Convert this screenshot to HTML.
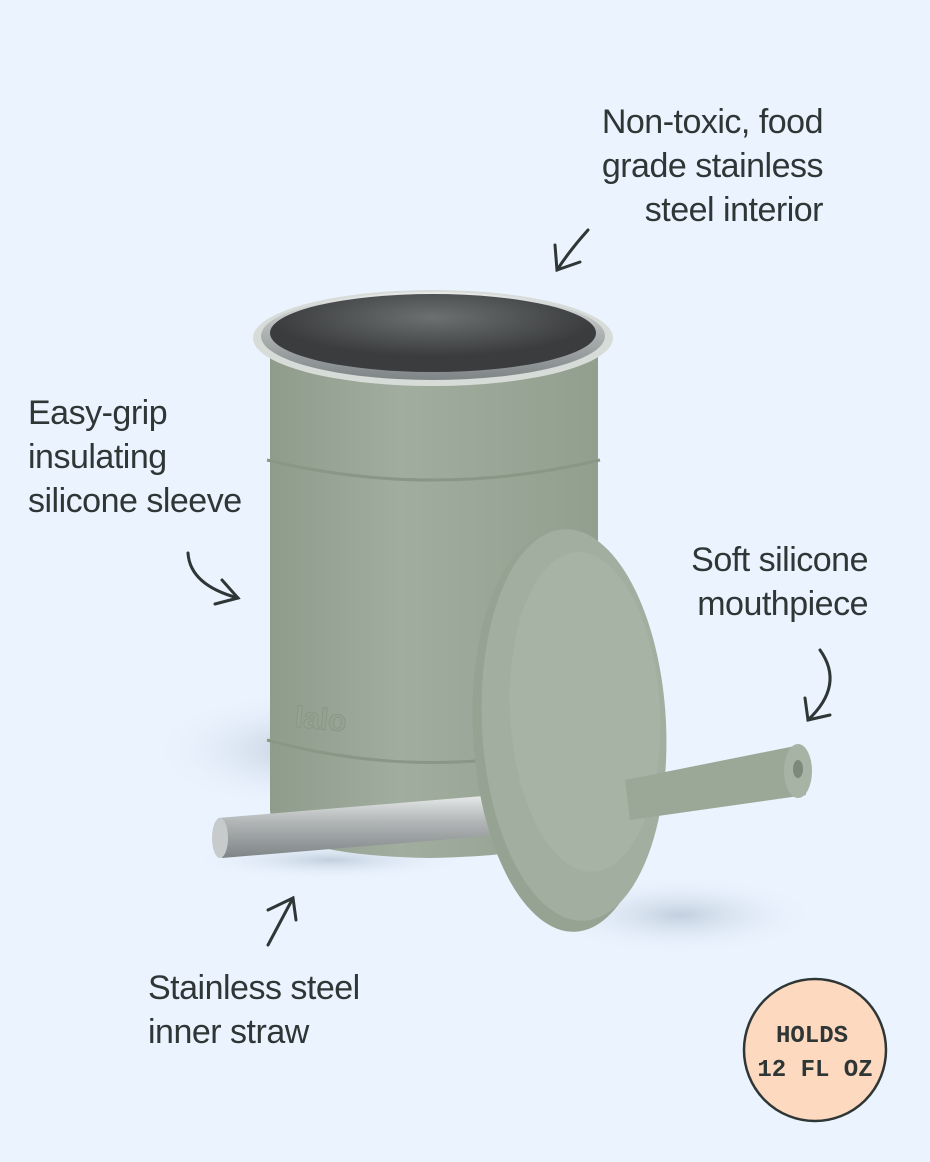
<!DOCTYPE html>
<html><head><meta charset="utf-8"><style>
html,body{margin:0;padding:0;}
body{width:930px;height:1162px;background:#eaf3fe;position:relative;overflow:hidden;font-family:"Liberation Sans",sans-serif;color:#2e3636;}
.t{position:absolute;font-size:34px;line-height:44px;letter-spacing:-0.5px;}
</style></head><body>
<svg width="930" height="1162" style="position:absolute;left:0;top:0">
<defs>
<linearGradient id="body" x1="0" x2="1"><stop offset="0" stop-color="#8f9c8c"/><stop offset="0.4" stop-color="#a1ad9e"/><stop offset="1" stop-color="#929f8f"/></linearGradient>
<linearGradient id="steel" x1="0" y1="0" x2="0" y2="1"><stop offset="0" stop-color="#e8eaea"/><stop offset="0.4" stop-color="#b4b8b9"/><stop offset="1" stop-color="#7f8486"/></linearGradient>
<radialGradient id="inner" cx="0.5" cy="0.3"><stop offset="0" stop-color="#6d7071"/><stop offset="1" stop-color="#3a3c3d"/></radialGradient>
<radialGradient id="sh"><stop offset="0" stop-color="#b9c6d6" stop-opacity="0.8"/><stop offset="1" stop-color="#eaf3fe" stop-opacity="0"/></radialGradient>
</defs>
<ellipse cx="300" cy="750" rx="150" ry="60" fill="url(#sh)"/>
<ellipse cx="680" cy="915" rx="140" ry="40" fill="url(#sh)"/>
<ellipse cx="330" cy="860" rx="140" ry="20" fill="url(#sh)"/>
<!-- cup body -->
<path d="M270 345 L270 810 Q270 855 430 858 Q595 855 598 810 L598 345 Z" fill="url(#body)"/>
<path d="M267 460 Q432 500 600 460" stroke="#8a9787" stroke-width="3" fill="none"/>
<path d="M267 740 Q432 785 600 740" stroke="#8a9787" stroke-width="3" fill="none"/>
<text x="295" y="730" font-size="30" font-weight="bold" fill="#95a292" stroke="#8a9787" stroke-width="1" transform="rotate(5 330 720)">lalo</text>
<ellipse cx="433" cy="338" rx="180" ry="48" fill="#d8dcd8"/>
<ellipse cx="433" cy="336" rx="172" ry="44" fill="url(#steel)"/>
<ellipse cx="433" cy="333" rx="163" ry="39" fill="url(#inner)"/>
<!-- metal straw -->
<path d="M218 818 L495 795 L500 835 L222 858 Z" fill="url(#steel)"/>
<ellipse cx="220" cy="838" rx="8" ry="20" fill="#c7cbcc"/>
<!-- lid -->
<ellipse cx="565" cy="732" rx="92" ry="200" fill="#96a393" transform="rotate(-3 565 732)"/>
<ellipse cx="574" cy="725" rx="92" ry="196" fill="#a2ae9f" transform="rotate(-3 574 725)"/>
<ellipse cx="585" cy="712" rx="75" ry="160" fill="#a7b3a4" transform="rotate(-3 585 712)"/>
<!-- mouthpiece -->
<path d="M625 780 L800 745 L806 795 L630 820 Z" fill="#9ba898"/>
<ellipse cx="798" cy="771" rx="14" ry="27" fill="#a7b3a4"/>
<ellipse cx="798" cy="769" rx="5" ry="9" fill="#7d8a7b"/>
<!-- arrows -->
<g stroke="#2e3636" stroke-width="3" fill="none" stroke-linecap="round">
<path d="M588 230 Q570 250 557 270"/><path d="M555 245 L557 270 L580 262"/>
<path d="M188 553 Q190 585 238 598"/><path d="M222 580 L238 598 L215 604"/>
<path d="M820 650 Q845 685 808 720"/><path d="M805 698 L808 720 L830 715"/>
<path d="M268 945 L293 898"/><path d="M268 910 L293 898 L296 920"/>
</g>
<circle cx="815" cy="1050" r="71" fill="#fdd9bf" stroke="#2e3636" stroke-width="2.5"/>
<text x="812" y="1042" font-size="24" font-weight="bold" text-anchor="middle" fill="#2e3636" font-family="Liberation Mono, monospace">HOLDS</text>
<text x="815" y="1076" font-size="24" font-weight="bold" text-anchor="middle" fill="#2e3636" font-family="Liberation Mono, monospace">12 FL OZ</text>
</svg>
<div class="t" style="right:107px;top:100px;text-align:right">Non-toxic, food<br>grade stainless<br>steel interior</div>
<div class="t" style="left:28px;top:391px">Easy-grip<br>insulating<br>silicone sleeve</div>
<div class="t" style="right:62px;top:538px;text-align:right">Soft silicone<br>mouthpiece</div>
<div class="t" style="left:148px;top:966px">Stainless steel<br>inner straw</div>
</body></html>
